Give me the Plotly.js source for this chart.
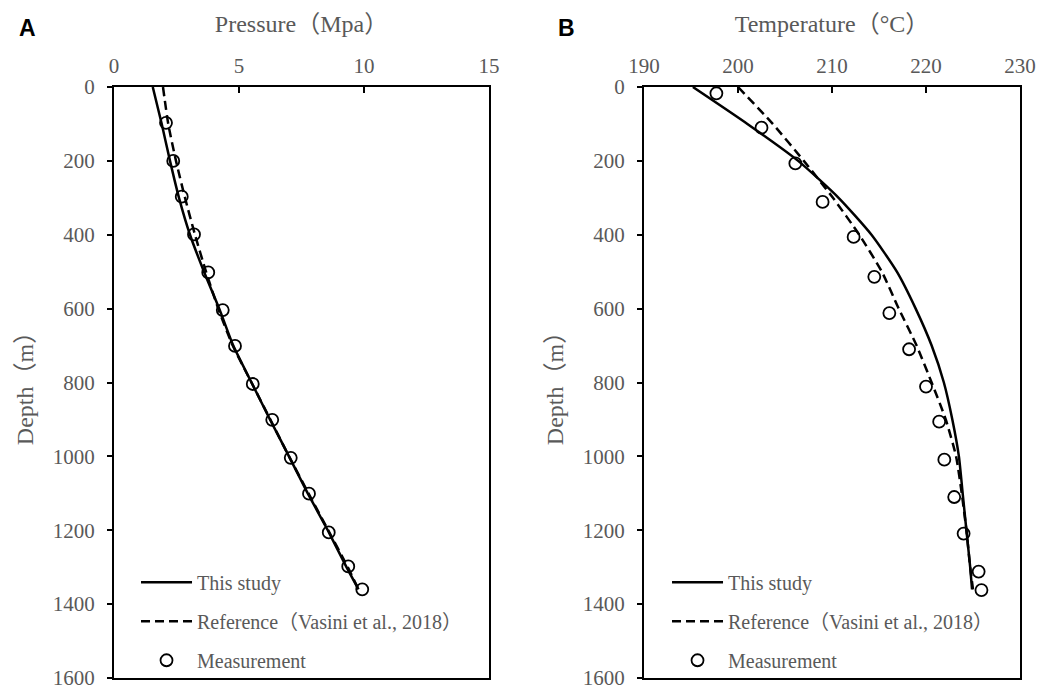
<!DOCTYPE html>
<html>
<head>
<meta charset="utf-8">
<script src="https://cdn.plot.ly/plotly-3.0.1.min.js"></script>
<style>html,body{margin:0;padding:0;background:#fff;}#chart{width:1040px;height:691px;}</style>
</head>
<body>
<div id="chart"></div>
<script>
// Model curves (depth grid, m)
const lineDepth = [0, 100, 200, 300, 400, 500, 600, 700, 800, 900, 1000, 1100, 1200, 1300, 1360];
// Panel A: pressure (MPa)
const pressureThisStudy = [1.55, 1.91, 2.24, 2.60, 3.04, 3.60, 4.21, 4.77, 5.50, 6.24, 7.00, 7.75, 8.55, 9.30, 9.78];
const pressureReference = [1.96, 2.17, 2.48, 2.84, 3.24, 3.68, 4.17, 4.75, 5.50, 6.25, 7.00, 7.78, 8.57, 9.35, 9.78];
const pressureMeasDepth = [97, 200, 297, 399, 502, 604, 701, 804, 901, 1004, 1101, 1206, 1298, 1360];
const pressureMeas = [2.08, 2.37, 2.71, 3.20, 3.77, 4.35, 4.84, 5.55, 6.33, 7.07, 7.80, 8.59, 9.37, 9.93];
// Panel B: temperature (°C)
const tempThisStudy = [195.2, 201.0, 206.4, 210.7, 214.2, 216.9, 218.9, 220.6, 221.9, 222.8, 223.5, 223.9, 224.3, 224.7, 224.9];
const tempReference = [200.0, 203.7, 207.0, 210.1, 212.9, 215.3, 217.1, 219.0, 220.6, 222.1, 223.2, 223.8, 224.3, 224.7, 225.0];
const tempMeasDepth = [17, 110, 207, 311, 406, 514, 612, 710, 811, 906, 1009, 1110, 1209, 1312, 1362];
const tempMeas = [197.7, 202.5, 206.1, 209.0, 212.3, 214.5, 216.1, 218.2, 220.0, 221.4, 221.95, 223.0, 224.0, 225.6, 225.9];

const seriesNames = ['This study', 'Reference（Vasini et al., 2018）', 'Measurement'];
const xTitles = ['Pressure（Mpa）', 'Temperature（°C）'];
const yTitle = 'Depth（m）';
const panelLabels = ['A', 'B'];

const SERIF = '"Liberation Serif", "Times New Roman", "Noto Sans CJK SC", serif';
const GRAY = '#595959';

function panelTraces(xs, ys, legendId) {
  return [
    {x: xs.solid, y: lineDepth, xaxis: xs.ax, yaxis: ys, mode: 'lines', name: seriesNames[0],
     line: {color: 'black', width: 2.5, shape: 'spline', smoothing: 0.6}, legend: legendId, legendgroup: legendId + 'a'},
    {x: xs.dash, y: lineDepth, xaxis: xs.ax, yaxis: ys, mode: 'lines', name: seriesNames[1],
     line: {color: 'black', width: 2.5, dash: '9px,5px', shape: 'spline', smoothing: 0.6}, legend: legendId, legendgroup: legendId + 'b'},
    {x: xs.meas, y: xs.measDepth, xaxis: xs.ax, yaxis: ys, mode: 'markers', name: seriesNames[2],
     marker: {symbol: 'circle-open', size: 12, color: 'black', line: {width: 1.8, color: 'black'}}, legend: legendId, legendgroup: legendId + 'c'}
  ];
}

const traces = [].concat(
  panelTraces({ax: 'x', solid: pressureThisStudy, dash: pressureReference, meas: pressureMeas, measDepth: pressureMeasDepth}, 'y', 'legend'),
  panelTraces({ax: 'x2', solid: tempThisStudy, dash: tempReference, meas: tempMeas, measDepth: tempMeasDepth}, 'y2', 'legend2')
);

function xAxis(range, dtick, title, domain, anchor) {
  return {
    domain: domain, range: range, dtick: dtick, side: 'top', anchor: anchor,
    ticks: 'inside', ticklen: 6, tickwidth: 2, tickcolor: 'black',
    showline: true, linecolor: 'black', linewidth: 2, mirror: true,
    showgrid: false, zeroline: false, fixedrange: true,
    tickfont: {family: SERIF, size: 21, color: GRAY},
    ticklabelstandoff: 4,
    title: {text: title, font: {family: SERIF, size: 24, color: GRAY}, standoff: 14}
  };
}
function yAxis(anchor) {
  return {
    domain: [0, 1], range: [1600, 0], dtick: 200, anchor: anchor,
    ticks: 'outside', ticklen: 5, tickwidth: 2, tickcolor: 'black',
    showline: true, linecolor: 'black', linewidth: 2, mirror: true,
    showgrid: false, zeroline: false, fixedrange: true,
    tickfont: {family: SERIF, size: 21, color: GRAY},
    ticklabelstandoff: 8,
    title: {text: yTitle, font: {family: SERIF, size: 24, color: GRAY}, standoff: 12}
  };
}

const legendCommon = {
  font: {family: SERIF, size: 20, color: GRAY}, bgcolor: 'rgba(0,0,0,0)',
  traceorder: 'grouped', tracegroupgap: 10, xanchor: 'left', yanchor: 'top', itemwidth: 51
};

const layout = {
  width: 1040, height: 691,
  margin: {l: 114, r: 20, t: 87, b: 11},
  paper_bgcolor: 'white', plot_bgcolor: 'white',
  font: {family: SERIF, color: GRAY, size: 20},
  showlegend: true,
  xaxis: xAxis([0, 15], 5, xTitles[0], [0, 0.4139], 'y'),
  yaxis: yAxis('x'),
  xaxis2: xAxis([190, 230], 10, xTitles[1], [0.585, 1], 'y2'),
  yaxis2: yAxis('x2'),
  legend: Object.assign({x: 0.0243, y: 0.195}, legendCommon),
  legend2: Object.assign({x: 0.6104, y: 0.195}, legendCommon),
  annotations: [
    {text: panelLabels[0], xref: 'paper', yref: 'paper', x: -0.096, y: 1.0995, xanchor: 'center', yanchor: 'middle', showarrow: false,
     font: {family: 'Liberation Sans, Arial, sans-serif', size: 23, color: 'black', weight: 'bold'}},
    {text: panelLabels[1], xref: 'paper', yref: 'paper', x: 0.4999, y: 1.0995, xanchor: 'center', yanchor: 'middle', showarrow: false,
     font: {family: 'Liberation Sans, Arial, sans-serif', size: 23, color: 'black', weight: 'bold'}}
  ]
};

Plotly.newPlot('chart', traces, layout, {displayModeBar: false, staticPlot: true});
</script>
</body>
</html>
